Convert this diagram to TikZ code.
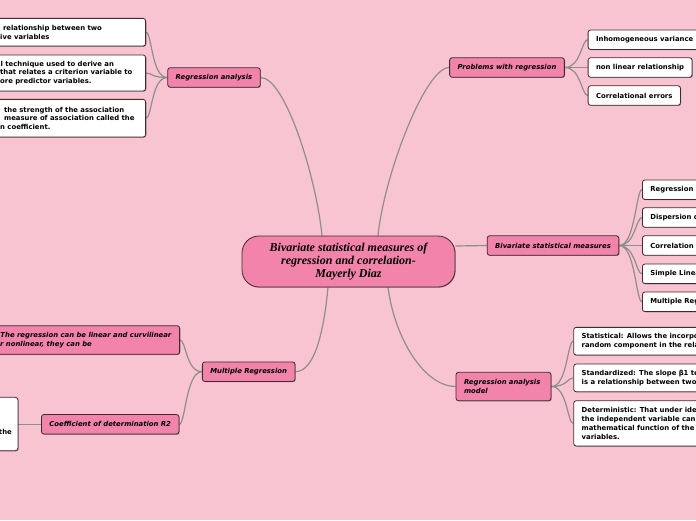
\documentclass[tikz,border=0pt]{standalone}
\usepackage{fontspec}
\setmainfont{DejaVu Sans}
\newfontfamily\titlefont{Liberation Serif}
\usetikzlibrary{shadows}
\definecolor{bgpink}{HTML}{F9C4D1}
\definecolor{boxpink}{HTML}{F283AB}
\definecolor{edgedark}{HTML}{3F2A32}
\definecolor{linegray}{HTML}{8E8E8E}
\pgfdeclarelayer{back}
\pgfsetlayers{back,main}
\newcommand\lblfont{\fontsize{6.86}{8.8}\selectfont\bfseries}
\tikzset{
  sh/.style={drop shadow={shadow xshift=0.7pt,shadow yshift=-0.7pt,opacity=0.35,fill=black}},
  pbox/.style={draw=edgedark,line width=0.8pt,fill=boxpink,rounded corners=2.5pt,
    font=\lblfont\itshape,inner xsep=8pt,inner ysep=0pt,minimum height=19.5pt,sh},
  wbox/.style={draw=edgedark,line width=0.8pt,fill=white,rounded corners=2.5pt,
    font=\lblfont,inner xsep=8pt,inner ysep=0pt,minimum height=19.5pt,sh},
  cbox/.style={draw=edgedark,line width=0.8pt,fill=boxpink,rounded corners=17pt,
    font=\titlefont\bfseries\itshape\fontsize{12}{13}\selectfont,align=center,
    minimum width=213pt,minimum height=51pt,inner sep=0pt,sh},
  txt/.style={font=\lblfont,inner sep=0pt,align=left},
  link/.style={draw=linegray,line width=1.2pt}
}
\begin{document}
\begin{tikzpicture}[x=1pt,y=-1pt]
\useasboundingbox (0,0) rectangle (696,520);
\begin{pgfonlayer}{back}
\fill[bgpink] (0,0) rectangle (696,520);
\end{pgfonlayer}
\clip (0,0) rectangle (696,520);

% centre
\node[cbox] (c) at (348.5,261.5) {Bivariate statistical measures of\\regression and correlation-\\Mayerly Diaz};
\coordinate (ct1) at ([xshift=-26.5pt]c.north);
\coordinate (ct2) at ([xshift=29.5pt]c.north);
\coordinate (cb1) at ([xshift=-20.5pt]c.south);
\coordinate (cb2) at ([xshift=39.5pt]c.south);
\coordinate (ce) at ([yshift=15.5pt]c.east);

% branch nodes
\node[pbox] (RA) at (214,77.5) {Regression analysis};
\node[pbox] (PWR) at (507,67.5) {Problems with regression};
\node[pbox] (BSM) at (553,245.5) {Bivariate statistical measures};
\node[pbox,align=left,text width=79pt,minimum height=28.4pt] (RAM) at (503.5,386.5) {Regression analysis\\model};
\node[pbox] (MR) at (248.7,371.7) {Multiple Regression};
\node[pbox] (CD) at (110.2,424.3) {Coefficient of determination R2};

% Regression analysis children (left, clipped)
\node[wbox,anchor=east,minimum width=200pt,minimum height=27.7pt] (L1) at (146,32.2) {};
\node[txt,anchor=west] (L1t) at (0,32.5) {\hspace*{2.8pt}relationship between two\\ive variables};
\node[wbox,anchor=east,minimum width=200pt,minimum height=36pt] (L2) at (146,73) {};
\node[txt,anchor=west] (L2t) at (0,73) {\hspace*{0.5pt}l technique used to derive an\\that relates a criterion variable to\\ore predictor variables.};
\node[wbox,anchor=east,minimum width=200pt,minimum height=37.7pt] (L3) at (146,118.2) {};
\node[txt,anchor=west] (L3t) at (0,118.3) {\hspace*{4pt}the strength of the association\\\hspace*{4pt}measure of association called the\\n coefficient.};

% Problems with regression children
\node[wbox,anchor=west] (P1) at (587.7,39.7) {Inhomogeneous variance};
\node[wbox,anchor=west] (P2) at (587.7,67.5) {non linear relationship};
\node[wbox,anchor=west] (P3) at (587.7,95.5) {Correlational errors};

% Bivariate statistical measures children
\node[wbox,anchor=west] (B1) at (642,189.7) {Regression};
\node[wbox,anchor=west] (B2) at (642,217.5) {Dispersion diagram};
\node[wbox,anchor=west] (B3) at (642,245.5) {Correlation};
\node[wbox,anchor=west] (B4) at (642,273.8) {Simple Linear Regression};
\node[wbox,anchor=west] (B5) at (642,301.8) {Multiple Regression};

% Regression analysis model children
\node[wbox,anchor=west,align=left,minimum height=27.7pt] (S1) at (573.3,341.2) {Statistical: Allows the incorporation of a\\random component in the relationship.};
\node[wbox,anchor=west,align=left,minimum height=27.7pt] (S2) at (573.3,377.9) {Standardized: The slope β1 tells us if there\\is a relationship between two variables.};
\node[wbox,anchor=west,align=left,minimum height=45.3pt] (S3) at (573.3,423.4) {Deterministic: That under ideal conditions,\\the independent variable can be expressed as a\\mathematical function of the independent\\variables.};

% Multiple regression children
\node[pbox,anchor=east,minimum width=220pt,minimum height=28.6pt] (M1) at (180,340) {};
\node[txt,anchor=west,font=\lblfont\itshape] (M1t) at (0,340) {\hspace*{0.3pt}The regression can be linear and curvilinear\\\llap{o}r nonlinear, they can be};
\node[wbox,anchor=east,minimum width=100pt,minimum height=53.4pt] (K1) at (18.3,424) {};
\node[txt,anchor=east] (K1t) at (12,432.3) {the};

% connectors
\begin{pgfonlayer}{back}
\draw[link] (ct1) .. controls (316,176) and (285,77.5) .. (RA.east);
\draw[link] (ct2) .. controls (384,176) and (425,67.5) .. (PWR.west);
\draw[link] (ce) -- (BSM.west);
\draw[link] (cb1) .. controls (324,330) and (315,371.7) .. (MR.east);
\draw[link] (cb2) .. controls (395,340) and (425,386.5) .. (RAM.west);

\foreach \t in {L1,L2,L3}
  \draw[link] (RA.west) .. controls +(-16,0) and +(6,0) .. (\t.east);
\foreach \t in {P1,P2,P3}
  \draw[link] (PWR.east) .. controls +(16,0) and +(-6,0) .. (\t.west);
\foreach \t in {B1,B2,B3,B4,B5}
  \draw[link] (BSM.east) .. controls +(16,0) and +(-6,0) .. (\t.west);
\foreach \t in {S1,S2,S3}
  \draw[link] (RAM.east) .. controls +(16,0) and +(-6,0) .. (\t.west);
\foreach \t in {M1,CD}
  \draw[link] (MR.west) .. controls +(-16,0) and +(6,0) .. (\t.east);
\draw[link] (CD.west) -- (K1.east |- CD.west);
\end{pgfonlayer}
\end{tikzpicture}
\end{document}
